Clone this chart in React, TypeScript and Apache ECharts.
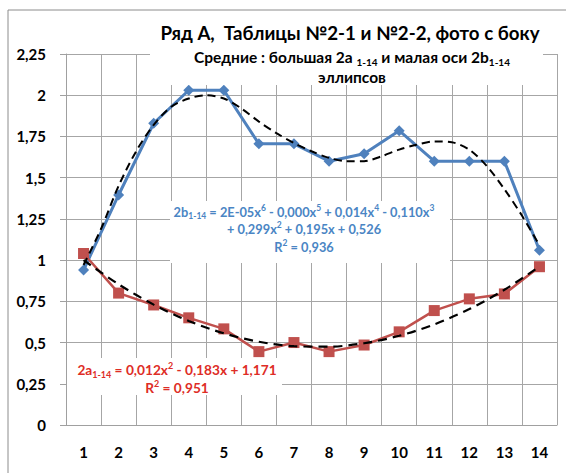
import React, { useEffect, useRef } from "react";
import * as echarts from "echarts";

const categories = ["1", "2", "3", "4", "5", "6", "7", "8", "9", "10", "11", "12", "13", "14"];
const xPositions = [1, 2, 3, 4, 5, 6, 7, 8, 9, 10, 11, 12, 13, 14];
const minorAxis2b = [0.94, 1.395, 1.83, 2.03, 2.03, 1.705, 1.705, 1.6, 1.645, 1.785, 1.6, 1.6, 1.6, 1.06];
const majorAxis2a = [1.04, 0.8, 0.728, 0.65, 0.583, 0.445, 0.5, 0.445, 0.485, 0.565, 0.694, 0.765, 0.795, 0.96];
const trend2bX = [1, 1.5, 2, 2.5, 3, 3.5, 4, 4.5, 5, 5.5, 6, 6.5, 7, 7.5, 8, 8.5, 9, 9.5, 10, 10.5, 11, 11.5, 12, 12.5, 13, 13.5, 14];
const trend2bY = [0.97, 1.19, 1.45, 1.66, 1.82, 1.93, 1.98, 2.0, 1.98, 1.92, 1.84, 1.77, 1.71, 1.66, 1.62, 1.6, 1.6, 1.63, 1.67, 1.7, 1.72, 1.715, 1.67, 1.57, 1.43, 1.27, 1.09];
const trend2aY = [1.0, 0.853, 0.73, 0.631, 0.556, 0.505, 0.478, 0.475, 0.496, 0.541, 0.61, 0.703, 0.82, 0.961];

const FONT = "Lato, 'Open Sans', sans-serif";
const BLUE_TEXT = "#4a85c4";
const RED_TEXT = "#de2d26";

export default function App() {
  const ref = useRef<HTMLDivElement>(null);
  useEffect(() => {
    if (!ref.current) return;
    const chart = echarts.init(ref.current, undefined, { renderer: "svg" });
    const pair = (xs: number[], ys: number[]) => xs.map((x, i) => [x, ys[i]]);
    const tok = (size: number, color: string, lh: number, va?: string) => ({
      fontSize: size,
      fontWeight: "bold",
      fontFamily: FONT,
      fill: color,
      lineHeight: lh,
      ...(va ? { verticalAlign: va } : {}),
    });

    chart.setOption({
      animation: false,
      backgroundColor: "#fff",
      grid: { left: 66, right: 9, top: 54, bottom: 48, containLabel: false },
      xAxis: [
        {
          type: "category",
          data: categories,
          boundaryGap: true,
          axisLine: { show: true, lineStyle: { color: "#a0a0a0", width: 1 } },
          axisTick: { show: false },
          splitLine: { show: true, lineStyle: { color: "#a6a6a6", width: 1 } },
          axisLabel: { color: "#000", fontFamily: FONT, fontWeight: "bold", fontSize: 15, margin: 19 },
        },
        { type: "value", min: 0.5, max: 14.5, show: false },
      ],
      yAxis: {
        type: "value",
        min: 0,
        max: 2.25,
        interval: 0.25,
        axisLine: { show: true, lineStyle: { color: "#a0a0a0", width: 1 } },
        axisTick: { show: true, length: 6, lineStyle: { color: "#a0a0a0" } },
        splitLine: { show: true, lineStyle: { color: "#a6a6a6", width: 1 } },
        axisLabel: {
          color: "#000",
          fontFamily: FONT,
          fontWeight: "bold",
          fontSize: 15,
          margin: 20,
          formatter: (v: number) => String(Math.round(v * 100) / 100).replace(".", ","),
        },
      },
      series: [
        {
          name: "2b trend",
          type: "line",
          xAxisIndex: 1,
          data: pair(trend2bX, trend2bY),
          smooth: 0.3,
          showSymbol: false,
          symbol: "none",
          lineStyle: { color: "#000", width: 2, type: [8, 5] },
          z: 3,
        },
        {
          name: "2b",
          type: "line",
          xAxisIndex: 1,
          data: pair(xPositions, minorAxis2b),
          symbol: "diamond",
          symbolSize: 11,
          itemStyle: { color: "#4f81bd" },
          lineStyle: { color: "#4f81bd", width: 3 },
          z: 2,
        },
        {
          name: "2a trend",
          type: "line",
          xAxisIndex: 1,
          data: pair(xPositions, trend2aY),
          smooth: 0.3,
          showSymbol: false,
          symbol: "none",
          lineStyle: { color: "#000", width: 2.2, type: [9, 6] },
          z: 3,
        },
        {
          name: "2a",
          type: "line",
          xAxisIndex: 1,
          data: pair(xPositions, majorAxis2a),
          symbol: "rect",
          symbolSize: 11,
          itemStyle: { color: "#c0504d" },
          lineStyle: { color: "#c0504d", width: 2.5 },
          z: 2,
        },
      ],
      graphic: [
        { type: "rect", z: 50, shape: { x: 8, y: 10, width: 600, height: 520 }, style: { fill: "none", stroke: "#8c8c8c", lineWidth: 1 } },
        { type: "rect", z: 50, shape: { x: 150, y: 14, width: 393, height: 71 }, style: { fill: "#fff" } },
        {
          type: "text",
          z: 60,
          x: 350,
          y: 33,
          style: { text: "Ряд А,  Таблицы №2-1 и №2-2, фото с боку", font: `bold 18.7px ${FONT}`, fill: "#000", align: "center", verticalAlign: "middle" },
        },
        {
          type: "text",
          z: 60,
          x: 352,
          y: 47,
          style: {
            text: "{n|Средние : большая 2a }{s|1-14}{n| и малая оси 2b}{s|1-14}\n{n|эллипсов}",
            align: "center",
            verticalAlign: "top",
            rich: { n: tok(15.5, "#000", 20), s: tok(10, "#000", 20, "bottom") },
          },
        },
        { type: "rect", z: 50, shape: { x: 170, y: 201, width: 280, height: 62 }, style: { fill: "#fff" } },
        {
          type: "text",
          z: 60,
          x: 304,
          y: 203,
          style: {
            text:
              "{n|2b}{s|1-14}{n| = 2E-05x}{p|6}{n| - 0,000x}{p|5}{n| + 0,014x}{p|4}{n| - 0,110x}{p|3}\n{n|+ 0,299x}{p|2}{n| + 0,195x + 0,526}\n{n|R}{p|2}{n| = 0,936}",
            align: "center",
            verticalAlign: "top",
            rich: { n: tok(12.8, BLUE_TEXT, 17.5), s: tok(8.5, BLUE_TEXT, 17.5, "bottom"), p: tok(8.5, BLUE_TEXT, 15, "top") },
          },
        },
        { type: "rect", z: 50, shape: { x: 67, y: 358, width: 215, height: 37 }, style: { fill: "#fff" } },
        {
          type: "text",
          z: 60,
          x: 177,
          y: 361,
          style: {
            text: "{n|2a}{s|1-14}{n| = 0,012x}{p|2}{n| - 0,183x + 1,171}\n{n|R}{p|2}{n| = 0,951}",
            align: "center",
            verticalAlign: "top",
            rich: { n: tok(13.7, RED_TEXT, 17.5), s: tok(9, RED_TEXT, 17.5, "bottom"), p: tok(9, RED_TEXT, 15, "top") },
          },
        },
      ],
    });
    return () => chart.dispose();
  }, []);
  return <div ref={ref} style={{ position: "absolute", left: 0, top: 0, width: 566, height: 473 }} />;
}
